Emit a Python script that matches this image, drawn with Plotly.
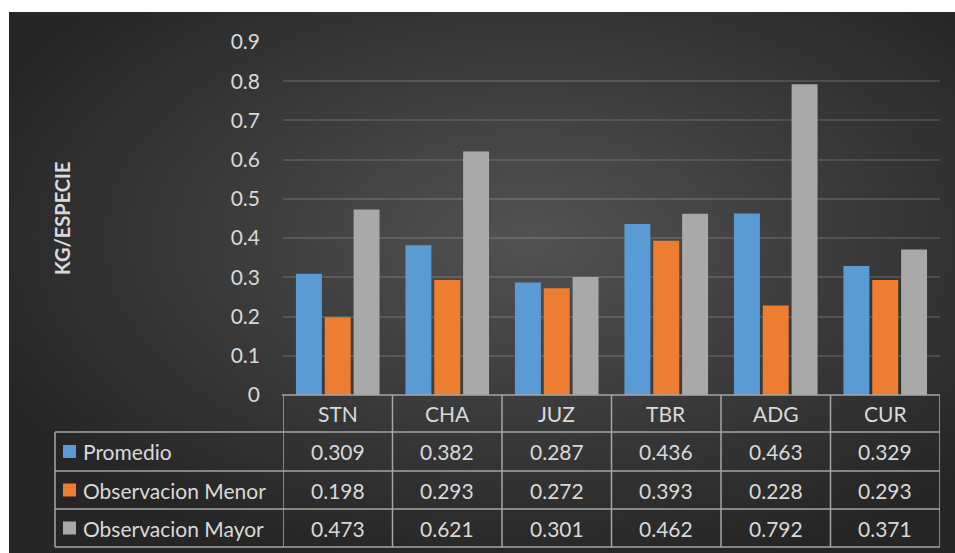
import base64
import plotly.graph_objects as go

# Species codes and the three measured series (kg per species)
categories = ["STN", "CHA", "JUZ", "TBR", "ADG", "CUR"]
series_names = ["Promedio", "Observacion Menor", "Observacion Mayor"]
promedio = [0.309, 0.382, 0.287, 0.436, 0.463, 0.329]
obs_menor = [0.198, 0.293, 0.272, 0.393, 0.228, 0.293]
obs_mayor = [0.473, 0.621, 0.301, 0.462, 0.792, 0.371]
y_ticks = [0, 0.1, 0.2, 0.3, 0.4, 0.5, 0.6, 0.7, 0.8, 0.9]

series_values = [promedio, obs_menor, obs_mayor]
colors = ["#5b9bd5", "#ed7d31", "#a9a9a9"]

W, H = 955, 553
ML, MR, MT, MB = 283, 15, 42, 158
PW, PH = W - ML - MR, H - MT - MB
FONT = "Lato"
FS = 21
TXT = "#d9d9d9"
LINE = "#a6a6a6"


def px_x(px):
    return (px - ML) / PW


def px_y(py):
    return (H - MB - py) / PH


fig = go.Figure()
for name, vals, col in zip(series_names, series_values, colors):
    fig.add_trace(go.Bar(x=categories, y=vals, name=name,
                         marker=dict(color=col, line=dict(width=0))))

# dark radial background behind the whole chart
svg = (
    '<svg xmlns="http://www.w3.org/2000/svg" width="946" height="541">'
    '<defs><radialGradient id="g" cx="0.55" cy="0.42" r="0.62">'
    '<stop offset="0" stop-color="#525252"/>'
    '<stop offset="1" stop-color="#262626"/>'
    '</radialGradient></defs>'
    '<rect width="946" height="541" fill="url(#g)"/></svg>'
)
bg_src = "data:image/svg+xml;base64," + base64.b64encode(svg.encode()).decode()

shapes = []
annotations = []


def label(x, y, text, xref="paper", xanchor="center", size=FS, angle=0):
    annotations.append(dict(x=x, xref=xref, y=y, yref="paper", text=text,
                            showarrow=False, xanchor=xanchor, yanchor="middle",
                            textangle=angle,
                            font=dict(family=FONT, size=size, color=TXT)))


# data table grid
n = len(categories)
row_lines = [395, 432, 471, 509, 547]
for i, py in enumerate(row_lines):
    x0 = px_x(282) if i == 0 else px_x(55)
    shapes.append(dict(type="line", xref="paper", yref="paper",
                       x0=x0, x1=px_x(940), y0=px_y(py), y1=px_y(py),
                       line=dict(color=LINE, width=1.5)))
shapes.append(dict(type="line", xref="paper", yref="paper",
                   x0=px_x(55), x1=px_x(55), y0=px_y(432), y1=px_y(547),
                   line=dict(color=LINE, width=1.5)))
for k in range(n + 1):
    shapes.append(dict(type="line", xref="x", yref="paper",
                       x0=k - 0.5, x1=k - 0.5, y0=px_y(395), y1=px_y(547),
                       line=dict(color=LINE, width=1.5)))

# header row: category names
for c in categories:
    label(c, px_y(413.5), c, xref="x")

# value rows with legend keys
for r, (name, vals, col) in enumerate(zip(series_names, series_values, colors)):
    yc = (row_lines[r + 1] + row_lines[r + 2]) / 2
    shapes.append(dict(type="rect", xref="paper", yref="paper",
                       x0=px_x(63), x1=px_x(76), y0=px_y(yc + 6.5), y1=px_y(yc - 6.5),
                       fillcolor=col, line=dict(width=0)))
    label(px_x(81), px_y(yc), name, xanchor="left")
    for c, v in zip(categories, vals):
        label(c, px_y(yc), f"{v:.3f}", xref="x")

# vertical axis title
label(px_x(62), px_y(218), "<b>KG/ESPECIE</b>", size=20, angle=-90)

fig.update_layout(
    width=W, height=H,
    margin=dict(l=ML, r=MR, t=MT, b=MB),
    paper_bgcolor="white",
    plot_bgcolor="rgba(0,0,0,0)",
    barmode="group", bargap=0.21, bargroupgap=0.1,
    showlegend=False,
    font=dict(family=FONT, color=TXT),
    images=[dict(source=bg_src, xref="paper", yref="paper",
                 x=px_x(9), y=px_y(12), sizex=px_x(955) - px_x(9),
                 sizey=px_y(12) - px_y(553), sizing="stretch",
                 xanchor="left", yanchor="top", layer="below")],
    shapes=shapes,
    annotations=annotations,
    xaxis=dict(range=[-0.5, n - 0.5], showticklabels=False, showgrid=False,
               zeroline=False, showline=False, ticks=""),
    yaxis=dict(range=[0, 0.9], tickvals=y_ticks, ticktext=[f"{t:g}" for t in y_ticks],
               showgrid=True, gridcolor="rgba(255,255,255,0.13)", gridwidth=1.5,
               zeroline=False, showline=False, ticks="",
               tickfont=dict(family=FONT, size=FS, color=TXT),
               ticklabelstandoff=22),
)

fig.write_html("out.html")
